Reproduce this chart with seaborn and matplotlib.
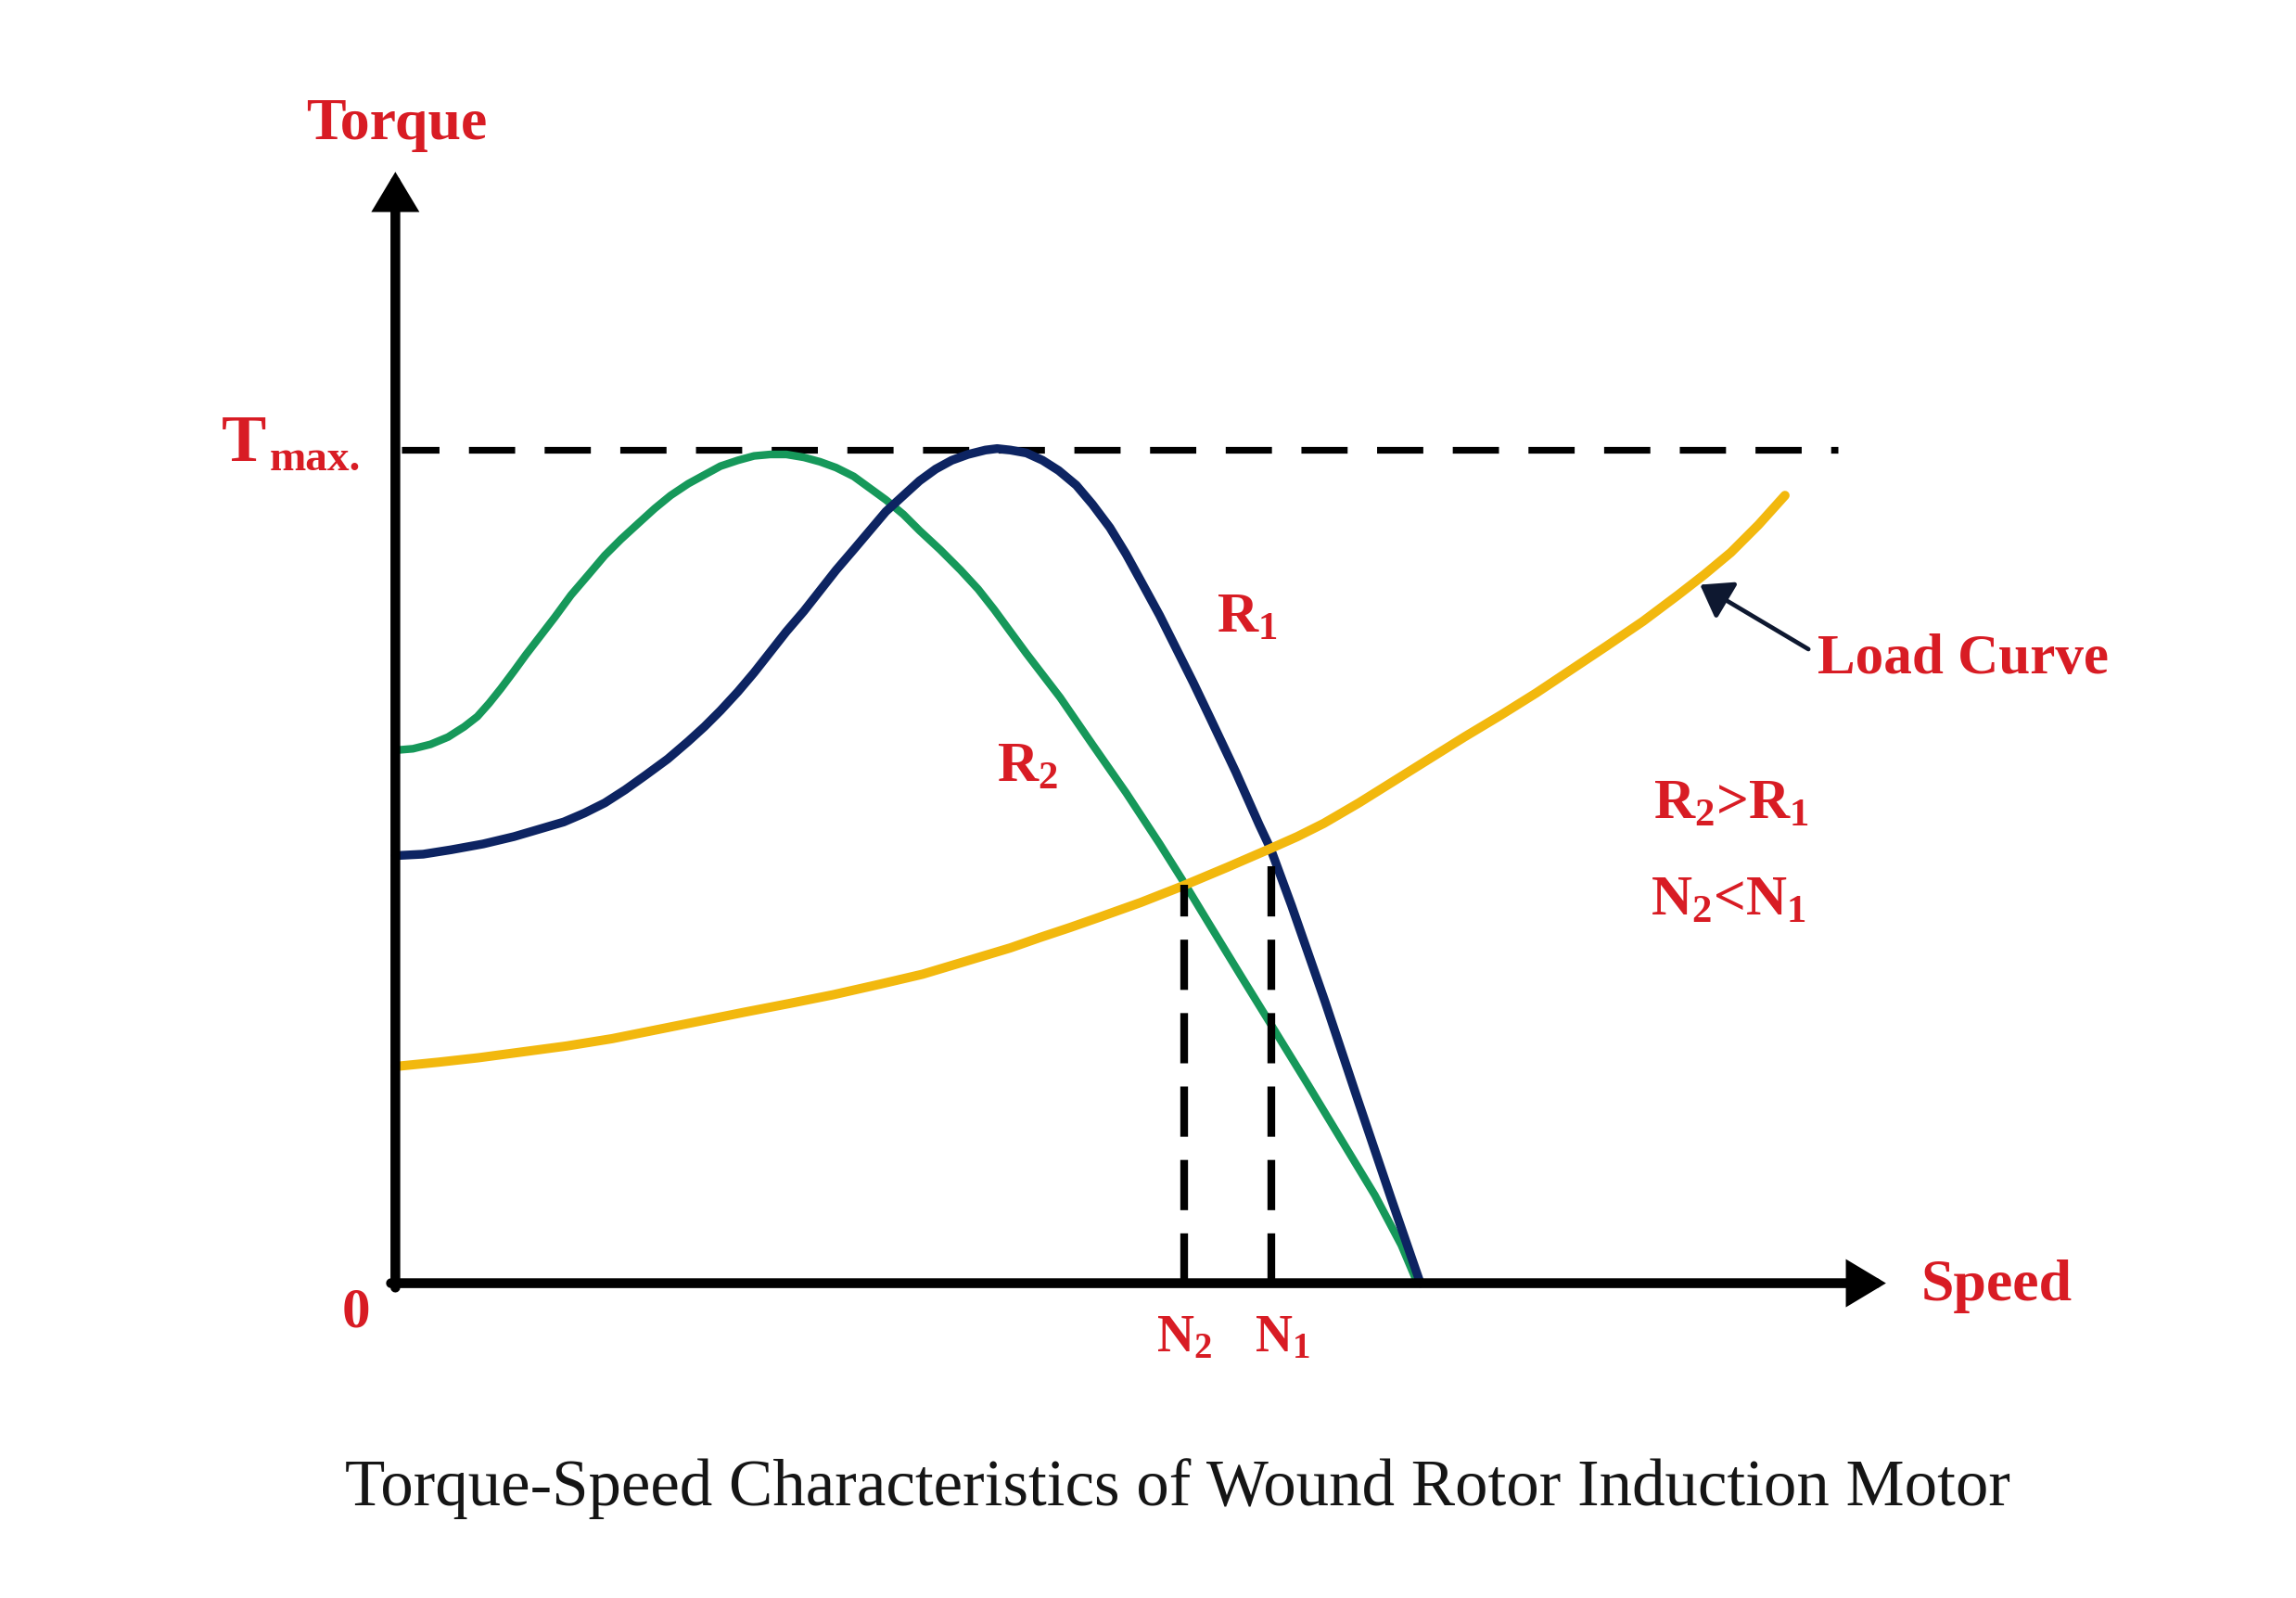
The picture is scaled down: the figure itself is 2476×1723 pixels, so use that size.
import matplotlib.pyplot as plt
import seaborn as sns

sns.set_theme(style="white")
plt.rcParams["font.family"] = ["Liberation Serif", "DejaVu Serif"]
plt.rcParams["mathtext.fontset"] = "custom"
plt.rcParams["mathtext.rm"] = "Liberation Serif:bold"
plt.rcParams["mathtext.default"] = "rm"

RED = "#d81c24"
GREEN = "#16985a"
BLUE = "#0d2462"
YELLOW = "#f2b80e"
NAVY = "#0e1830"

# values (speed, torque in drawing units, origin at the axes corner)
speed_r2 = [0, 12, 24, 36, 47, 56, 64, 72, 81, 89, 99, 109, 120, 132, 143, 154, 166, 177, 188,
            200, 211, 222, 234, 245, 256, 267, 279, 290, 301, 313, 324, 335, 347, 358, 372, 386,
            398, 409, 420, 431, 454, 476, 499, 522, 539, 556, 578, 599, 623, 646, 669, 687, 698]
torque_r2 = [364, 365, 368, 373, 380, 387, 396, 406, 418, 429, 442, 455, 470, 484, 497, 508, 519,
             529, 538, 546, 552, 558, 562, 565, 566, 566, 564, 561, 557, 551, 543, 535, 525, 514,
             501, 487, 474, 460, 445, 430, 400, 368, 335, 300, 273, 245, 209, 175, 136, 98, 60,
             26, 0]

speed_r1 = [0, 19, 38, 60, 81, 98, 115, 129, 143, 157, 171, 186, 200, 211, 222, 234, 245, 256,
            267, 279, 290, 301, 313, 324, 335, 347, 358, 369, 380, 391, 403, 411, 420, 431, 442,
            453, 465, 476, 488, 499, 510, 522, 533, 545, 556, 565, 574, 582, 590, 598, 612, 635,
            657, 680, 700]
torque_r1 = [292, 293, 296, 300, 305, 310, 315, 321, 328, 337, 347, 358, 370, 380, 391, 404, 417,
             431, 445, 459, 473, 487, 501, 514, 527, 538, 548, 556, 562, 566, 569, 570, 569, 567,
             562, 555, 545, 532, 516, 498, 478, 456, 434, 410, 387, 368, 349, 331, 313, 296, 258,
             192, 126, 58, 0]

speed_load = [0, 30, 57, 87, 117, 148, 178, 208, 238, 269, 299, 330, 360, 380, 400, 420, 440,
              461, 481, 509, 537, 568, 598, 616, 634, 658, 682, 706, 730, 755, 779, 803, 827,
              852, 876, 894, 912, 931, 949]
torque_load = [148, 151, 154, 158, 162, 167, 173, 179, 185, 191, 197, 204, 211, 217, 223, 229,
               236, 243, 250, 260, 271, 284, 297, 305, 314, 328, 343, 358, 373, 388, 403, 419,
               435, 452, 470, 484, 499, 518, 538]

T_MAX = 569
N_SPEED = [539, 598]      # N2, N1
N_TORQUE = [272, 297]
X_END = 1018
Y_END = 759

fig = plt.figure(figsize=(12.38, 8.62), dpi=200)
ax = fig.add_axes([0, 0, 1, 1])
ax.set_xlim(-270, 1298)
ax.set_ylim(-215, 877)
ax.axis("off")

curve_kw = dict(solid_joinstyle="round", solid_capstyle="round", ax=ax)
sns.lineplot(x=speed_r2, y=torque_r2, color=GREEN, linewidth=3.0, zorder=3, **curve_kw)
sns.lineplot(x=speed_r1, y=torque_r1, color=BLUE, linewidth=3.4, zorder=4, **curve_kw)
sns.lineplot(x=speed_load, y=torque_load, color=YELLOW, linewidth=3.6, zorder=5, **curve_kw)

ax.hlines(T_MAX, 4, 985, colors="black", linewidth=2.6, linestyles=(1.3, (6.9, 4.4)), zorder=2)
ax.vlines(N_SPEED, 0, N_TORQUE, colors="black", linewidth=3.0, linestyles=(0, (6.5, 3.0)), zorder=6)

# axes with arrow heads
axis_arrow = dict(arrowstyle="-|>,head_length=1.0,head_width=0.6", mutation_scale=10,
                  lw=3.8, color="black", shrinkA=0, shrinkB=0, joinstyle="miter")
ax.annotate("", xy=(0, Y_END), xytext=(0, -3), arrowprops=axis_arrow, zorder=7)
ax.annotate("", xy=(X_END, 0), xytext=(-3, 0), arrowprops=axis_arrow, zorder=7)

ax.annotate("", xy=(891, 477), xytext=(965, 433),
            arrowprops=dict(arrowstyle="-|>,head_length=1.0,head_width=0.7", mutation_scale=10,
                            lw=1.7, color=NAVY, shrinkA=0, shrinkB=0), zorder=7)

lab = dict(color=RED, fontweight="bold", va="baseline")
ax.text(1, 782, "Torque", ha="center", fontsize=23, **lab)
ax.text(1042, -11, "Speed", ha="left", fontsize=23, **lab)
ax.text(971, 417, "Load Curve", ha="left", fontsize=22, **lab)
ax.text(859, 318, r"R$_2$>R$_1$", ha="left", fontsize=22, **lab)
ax.text(857, 252, r"N$_2$<N$_1$", ha="left", fontsize=22, **lab)
ax.text(561, 445, r"R$_1$", ha="left", fontsize=22, **lab)
ax.text(411, 343, r"R$_2$", ha="left", fontsize=22, **lab)
ax.text(520, -46, r"N$_2$", ha="left", fontsize=20, **lab)
ax.text(587, -46, r"N$_1$", ha="left", fontsize=20, **lab)
ax.text(-27, -29, "0", ha="center", fontsize=22, **lab)
ax.text(-119, 562, "T", ha="left", fontsize=26, **lab)
ax.text(-86, 556, "max.", ha="left", fontsize=17, **lab)

ax.text(534, -151, "Torque-Speed Characteristics of Wound Rotor Induction Motor",
        ha="center", va="baseline", fontsize=25.5, color="#151515")

fig.savefig("out.png", dpi=200, facecolor="white")
